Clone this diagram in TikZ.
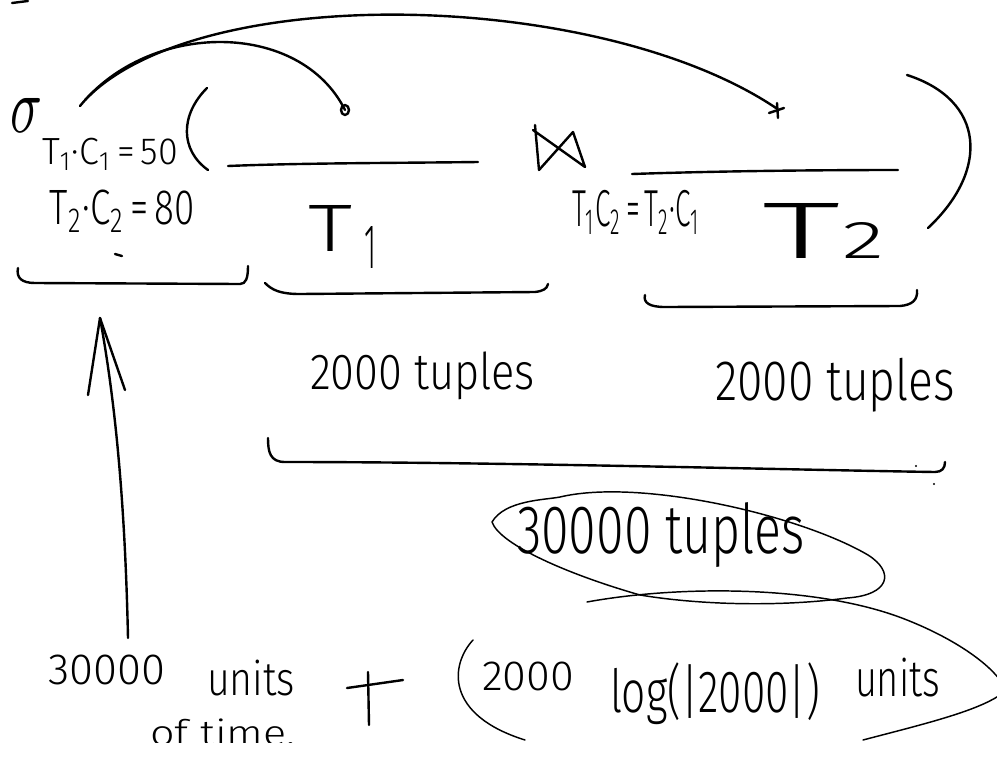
\documentclass[tikz,border=0pt]{standalone}
\usepackage{fontspec}
\IfFontExistsTF{Fira Sans Light}{\setmainfont{Fira Sans Light}}{\setmainfont{Open Sans}}
\usepackage{graphicx}
\newdimen\pxu \pxu=0.75pt
\newcommand{\hw}[3]{\resizebox*{#1\pxu}{#2\pxu}{#3}}
\tikzset{
  pen/.style={line width=1.8pt, line cap=round, line join=round},
  thinpen/.style={line width=1.1pt, line cap=round, line join=round},
  hand/.style={inner sep=0pt, outer sep=0pt, anchor=north west},
}
\begin{document}
\begin{tikzpicture}[x=0.75pt,y=-0.75pt]
\useasboundingbox (0,0) rectangle (997,761);
\begin{scope}
\clip (0,0) rectangle (997,742);

% ---------- texts ----------
\node[hand] (sigma) at (10,98) {\hw{32}{34}{$\sigma$}};
\node[hand] (c1) at (42,138) {\hw{136}{32}{T\textsubscript{1}·C\textsubscript{1}\,=\,50}};
\node[hand] (c2) at (50,190) {\hw{145}{42}{T\textsubscript{2}·C\textsubscript{2}\,=\,80}};
\node[hand] (T1) at (308,205) {\hw{44}{46}{T}};
\node[hand] (T1s) at (364,226) {\hw{12}{42}{1}};
\node[hand] (T2) at (762,203) {\hw{78}{55}{T}};
\node[hand] (T2s) at (842,222) {\hw{42}{36}{2}};
\node[hand] (cond) at (572,190) {\hw{128}{44}{T\textsubscript{1}C\textsubscript{2}\,=\,T\textsubscript{2}·C\textsubscript{1}}};
\node[hand] (tup1) at (310,352) {\hw{225}{48}{2000 tuples}};
\node[hand] (tup2) at (715,358) {\hw{240}{54}{2000 tuples}};
\node[hand] (tup3) at (517,503) {\hw{288}{65}{30000 tuples}};
\node[hand] (n30000) at (48,655) {\hw{117}{30}{30000}};
\node[hand] (unitsA) at (207,660) {\hw{88}{36}{units}};
\node[hand] (oftime) at (150,719) {\hw{145}{27}{of time.}};
\node[hand] (n2000) at (482,662) {\hw{92}{29}{2000}};
\node[hand] (logexpr) at (610,663) {\hw{210}{62}{log(|2000|)}};
\node[hand] (unitsB) at (855,658) {\hw{85}{39}{units}};

% ---------- small marks ----------
\draw[pen] (12,3) -- (28,1);
\draw[pen] (115,254) -- (122,256);

% ---------- arcs (references) ----------
\coordinate (arcA) at (80,106);
\coordinate (arcB) at (85,100);
\coordinate (tipA) at (345,110);
\coordinate (tipB) at (776,108);
\draw[pen] (arcA) .. controls (150,20) and (300,20) .. (tipA);
\draw[pen] (tipA) ellipse [x radius=4, y radius=5];
\draw[pen] (arcB) .. controls (200,-20) and (600,-10) .. (tipB);
\draw[pen] (769,113) -- (784,108);
\draw[pen] (777,103) -- (778,118);

% ---------- selection / join expression ----------
\draw[pen] (207,88) .. controls (180,115) and (180,150) .. (208,170);
\draw[pen] (228,166) .. controls (300,163) and (400,163) .. (478,162);
\draw[pen] (535,125) -- (539,170) -- (573,132) -- (585,167) -- (533,130);
\draw[pen] (632,174) .. controls (720,171) and (820,170) .. (898,170);
\draw[pen] (907,75) .. controls (985,100) and (990,170) .. (928,228);

% ---------- braces ----------
\draw[pen] (18,268) .. controls (16,278) and (22,283) .. (35,283) -- (240,284) .. controls (246,284) and (248,278) .. (248,266);
\draw[pen] (265,283) .. controls (272,290) and (280,294) .. (300,294) -- (535,292) .. controls (543,291) and (547,289) .. (548,284);
\draw[pen] (645,295) .. controls (643,303) and (650,307) .. (665,307) -- (900,306) .. controls (912,305) and (918,300) .. (917,290);
\draw[pen] (268,438) .. controls (268,452) and (270,462) .. (285,462) .. controls (500,462) and (800,470) .. (935,472) .. controls (942,472) and (945,468) .. (945,462);
\fill (916,466) circle (1.2);
\fill (934,484) circle (1.2);

% ---------- ellipses ----------
\draw[thinpen] (492,522) .. controls (505,500) and (545,500) .. (560,497)
  .. controls (640,478) and (800,515) .. (868,555)
  .. controls (895,572) and (890,595) .. (847,598)
  .. controls (780,607) and (700,605) .. (640,595)
  .. controls (570,575) and (500,545) .. (492,522) -- cycle;
\draw[thinpen] (473,640) .. controls (450,665) and (445,715) .. (525,740);
\draw[thinpen] (587,602) .. controls (680,585) and (820,585) .. (907,620) .. controls (950,637) and (985,660) .. (1000,680);
\draw[thinpen] (863,740) .. controls (920,725) and (975,712) .. (1000,695);

% ---------- cost arrow ----------
\coordinate (arrTail) at (128,638);
\coordinate (arrTip) at (100,318);
\draw[pen] (arrTail) .. controls (125,500) and (115,400) .. (arrTip);
\draw[pen] (88,395) -- (arrTip) -- (125,390);

% ---------- plus ----------
\draw[pen] (368,672) -- (369,725);
\draw[pen] (347,688) -- (403,680);
\end{scope}
\end{tikzpicture}
\end{document}
